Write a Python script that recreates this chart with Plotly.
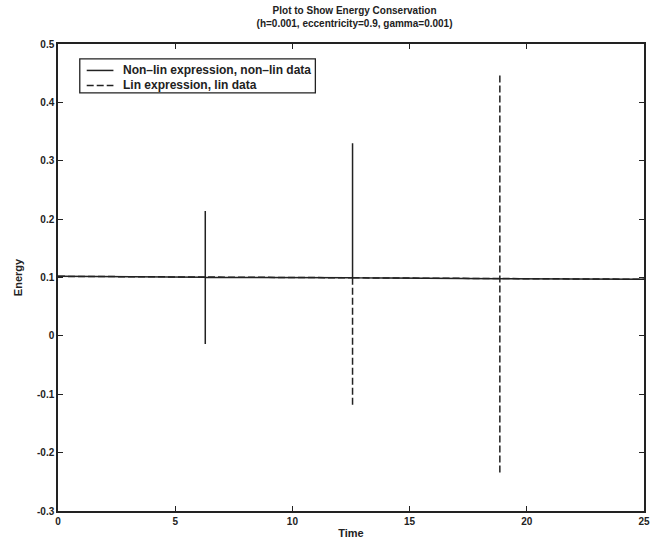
import plotly.graph_objects as go

# Data
nonlin_time = [0, 6.283, 6.283, 6.283, 6.283, 12.566, 12.566, 12.566, 18.850, 25]
nonlin_energy = [0.102, 0.1005, 0.214, -0.014, 0.1005, 0.0995, 0.330, 0.0995, 0.098, 0.097]

lin_time = [0, 12.566, None, 12.566, 12.566, None, 18.850, 18.850, None, 12.566, 25]
lin_energy = [0.102, 0.0995, None, 0.0995, -0.122, None, 0.446, -0.236, None, 0.0995, 0.097]

series_names = ["Non\u2013lin expression, non\u2013lin data", "Lin expression, lin data"]

x_ticks = [0, 5, 10, 15, 20, 25]
y_ticks = [-0.3, -0.2, -0.1, 0, 0.1, 0.2, 0.3, 0.4, 0.5]
y_tick_labels = ["-0.3", "-0.2", "-0.1", "0", "0.1", "0.2", "0.3", "0.4", "0.5"]

font_family = "Liberation Sans, Arial, sans-serif"
ink = "#222222"
dash_style = "7px,3px"

fig = go.Figure()
fig.add_trace(go.Scatter(
    x=nonlin_time, y=nonlin_energy, mode="lines", name=series_names[0],
    line=dict(color=ink, width=1.5, dash="solid"), showlegend=False,
))
fig.add_trace(go.Scatter(
    x=lin_time, y=lin_energy, mode="lines", name=series_names[1],
    line=dict(color=ink, width=1.5, dash=dash_style), connectgaps=False, showlegend=False,
))

axis_common = dict(
    showgrid=False, zeroline=False, showline=True, linecolor=ink, linewidth=1.5,
    ticks="inside", ticklen=5, tickwidth=1.2, tickcolor=ink, mirror="ticks",
    tickfont=dict(family=font_family, size=10, color=ink),
)

# Plot area in pixels: x 58..650, y 44..512
PW, PH, L, T = 592.0, 468.0, 58.0, 44.0
def px(x):
    return (x - L) / PW
def py(y):
    return 1 - (y - T) / PH

# Legend box (drawn as decoration)
shapes = [
    dict(type="rect", xref="paper", yref="paper", x0=px(80), x1=px(318), y0=py(93), y1=py(59),
         line=dict(color=ink, width=1.3), fillcolor="white", layer="above"),
    dict(type="line", xref="paper", yref="paper", x0=px(87), x1=px(114), y0=py(70.5), y1=py(70.5),
         line=dict(color=ink, width=1.5), layer="above"),
    dict(type="line", xref="paper", yref="paper", x0=px(87), x1=px(114), y0=py(85.5), y1=py(85.5),
         line=dict(color=ink, width=1.5, dash=dash_style), layer="above"),
]
annotations = [
    dict(xref="paper", yref="paper", x=px(122), y=py(70.5), xanchor="left", yanchor="middle",
         text=f"<b>{series_names[0]}</b>", showarrow=False,
         font=dict(family=font_family, size=12, color=ink)),
    dict(xref="paper", yref="paper", x=px(122), y=py(85.5), xanchor="left", yanchor="middle",
         text=f"<b>{series_names[1]}</b>", showarrow=False,
         font=dict(family=font_family, size=12, color=ink)),
]

fig.update_layout(
    width=659, height=547,
    margin=dict(l=58, r=9, t=44, b=35),
    paper_bgcolor="white", plot_bgcolor="white",
    title=dict(
        text="<b>Plot to Show Energy Conservation<br>(h=0.001, eccentricity=0.9, gamma=0.001)</b>",
        x=0.538, xanchor="center", y=0.974, yanchor="middle",
        font=dict(family=font_family, size=10, color=ink),
    ),
    xaxis=dict(
        range=[0, 25], tickvals=x_ticks, ticktext=[f"<b>{v}</b>" for v in x_ticks],
        title=dict(text="<b>Time</b>", font=dict(family=font_family, size=11, color=ink), standoff=4),
        **axis_common,
    ),
    yaxis=dict(
        range=[-0.3, 0.5], tickvals=y_ticks, ticktext=[f"<b>{t}</b>" for t in y_tick_labels],
        title=dict(text="<b>Energy</b>", font=dict(family=font_family, size=11, color=ink), standoff=12),
        **axis_common,
    ),
    shapes=shapes,
    annotations=annotations,
    showlegend=False,
)

fig.write_html("out.html")
